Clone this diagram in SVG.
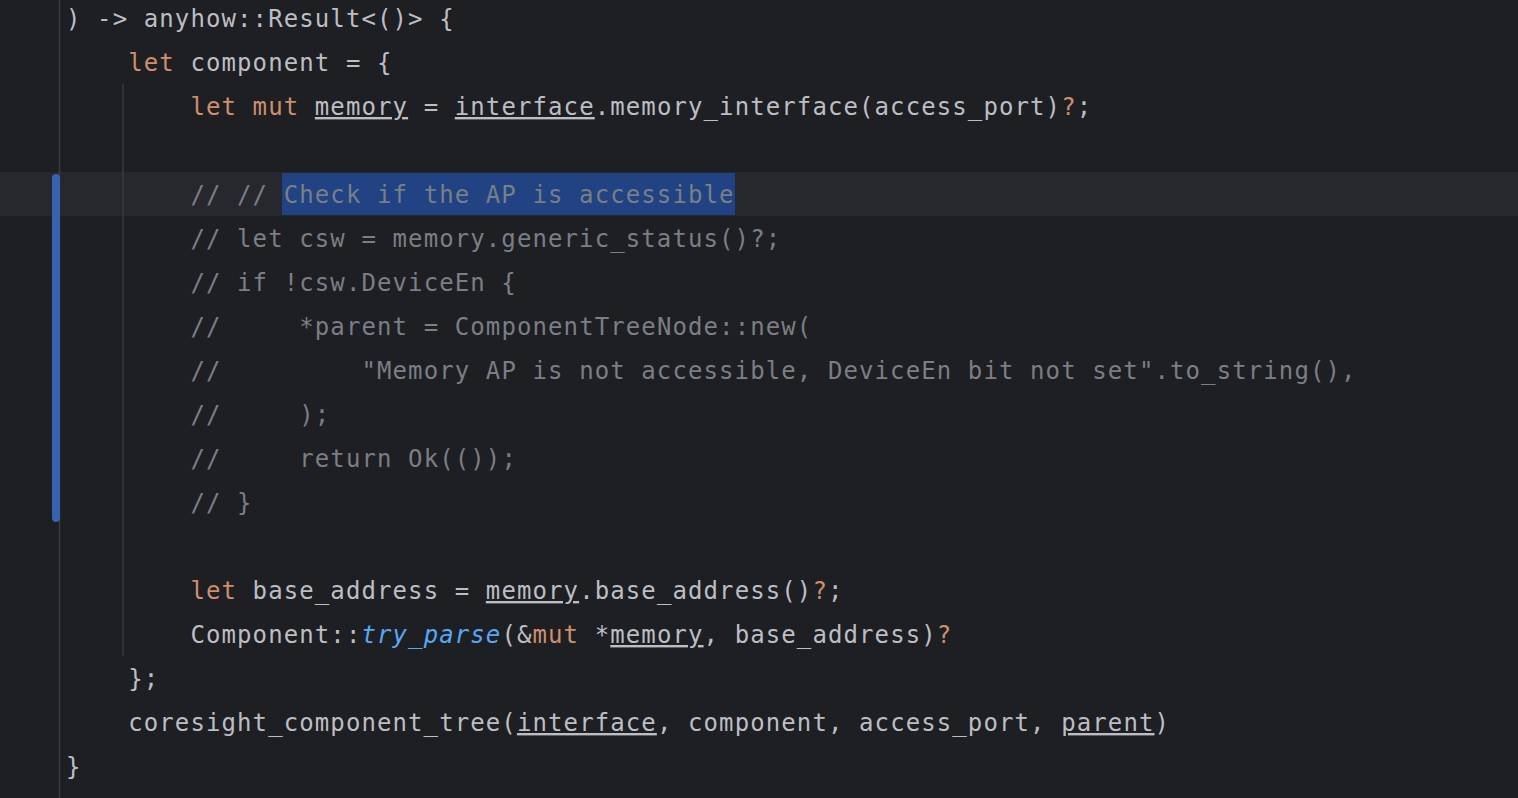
<svg xmlns="http://www.w3.org/2000/svg" width="1518" height="798" viewBox="0 0 1518 798">
<style>
text{font-family:"DejaVu Sans Mono","Liberation Mono",monospace;font-size:24px;letter-spacing:1.1px;fill:#bcbec4;white-space:pre}
.k{fill:#cf8e6d}
.c{fill:#7a7e85}
.f{fill:#56a8f5;font-style:italic}
.u{text-decoration:underline}
</style>
<rect x="0" y="0" width="1518" height="798" fill="#1e1f22"/>
<rect x="0" y="172" width="1518" height="44" fill="#26282e"/>
<rect x="282" y="173" width="453" height="42" fill="#214283"/>
<g id="gutter">
<line x1="59.5" y1="0" x2="59.5" y2="798" stroke="#393b40" stroke-width="1.5"/>
<line x1="123" y1="84" x2="123" y2="656" stroke="#393b40" stroke-width="1.5"/>
<rect x="52" y="174" width="8" height="348" rx="4" fill="#3a60b0"/>
</g>
<g id="code">
<text y="27"><tspan x="66">) -&gt; anyhow::Result&lt;()&gt; {</tspan></text>
<text y="71"><tspan x="128.2" class="k">let</tspan><tspan x="174.85"> component = {</tspan></text>
<text y="115"><tspan x="190.4" class="k">let</tspan><tspan x="252.6" class="k">mut</tspan><tspan x="314.8" class="u">memory</tspan><tspan x="408.1"> = </tspan><tspan x="454.75" class="u">interface</tspan><tspan x="594.7">.memory_interface(access_port)</tspan><tspan x="1061.2" class="k">?</tspan><tspan x="1076.75">;</tspan></text>
<text y="203" class="c"><tspan x="190.4">// // Check if the AP is accessible</tspan></text>
<text y="247" class="c"><tspan x="190.4">// let csw = memory.generic_status()?;</tspan></text>
<text y="291" class="c"><tspan x="190.4">// if !csw.DeviceEn {</tspan></text>
<text y="335" class="c"><tspan x="190.4">//</tspan><tspan x="299.25">*parent = ComponentTreeNode::new(</tspan></text>
<text y="379" class="c"><tspan x="190.4">//</tspan><tspan x="361.45">"Memory AP is not accessible, DeviceEn bit not set".to_string(),</tspan></text>
<text y="423" class="c"><tspan x="190.4">//</tspan><tspan x="299.25">);</tspan></text>
<text y="467" class="c"><tspan x="190.4">//</tspan><tspan x="299.25">return Ok(());</tspan></text>
<text y="511" class="c"><tspan x="190.4">// }</tspan></text>
<text y="599"><tspan x="190.4" class="k">let</tspan><tspan x="237.05"> base_address = </tspan><tspan x="485.85" class="u">memory</tspan><tspan x="579.15">.base_address()</tspan><tspan x="812.4" class="k">?</tspan><tspan x="827.95">;</tspan></text>
<text y="643"><tspan x="190.4">Component::</tspan><tspan x="361.45" class="f">try_parse</tspan><tspan x="501.4">(&amp;</tspan><tspan x="532.5" class="k">mut</tspan><tspan x="579.15"> *</tspan><tspan x="610.25" class="u">memory</tspan><tspan x="703.55">, base_address)</tspan><tspan x="936.8" class="k">?</tspan></text>
<text y="687"><tspan x="128.2">};</tspan></text>
<text y="731"><tspan x="128.2">coresight_component_tree(</tspan><tspan x="516.95" class="u">interface</tspan><tspan x="656.9">, component, access_port, </tspan><tspan x="1061.2" class="u">parent</tspan><tspan x="1154.5">)</tspan></text>
<text y="775"><tspan x="66">}</tspan></text>
</g>
</svg>
